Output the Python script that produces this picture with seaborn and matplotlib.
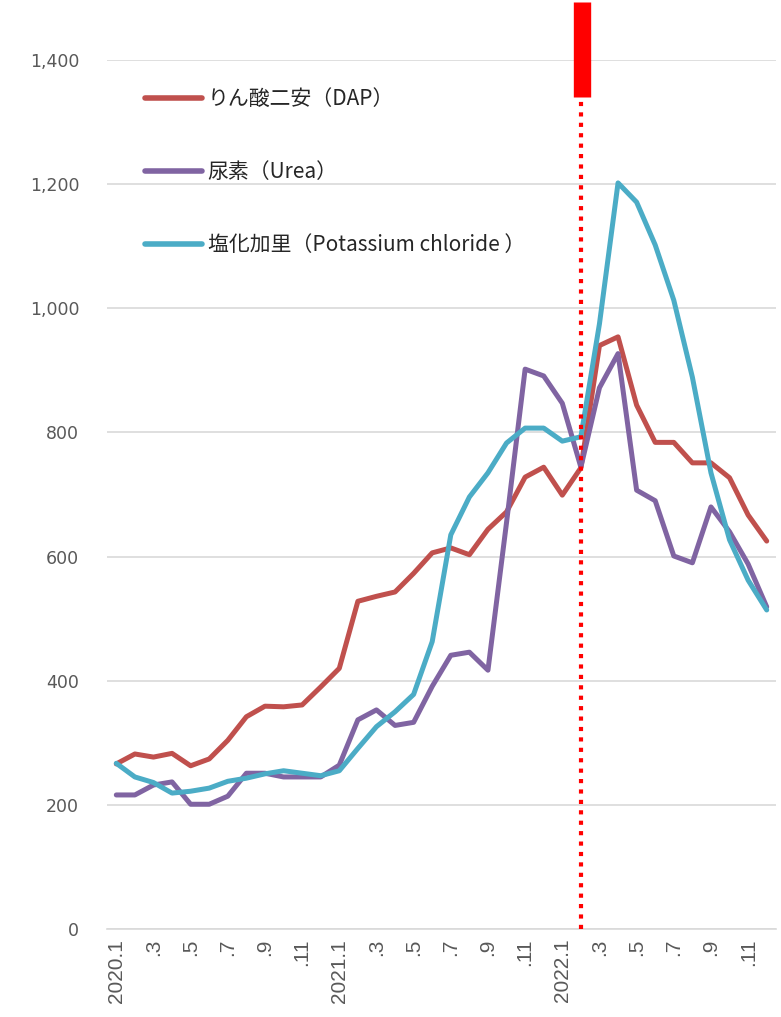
import matplotlib
matplotlib.use("Agg")
import matplotlib.pyplot as plt
import seaborn as sns
import pandas as pd
import numpy as np

# Monthly prices, Jan 2020 - Dec 2022
months = [f"{y}.{m}" for y in (2020, 2021, 2022) for m in range(1, 13)]
dap = [266, 282, 277, 283, 263, 274, 304, 342, 359, 358, 361, 390,
       420, 528, 536, 543, 573, 606, 614, 603, 644, 672, 728, 744,
       699, 743, 940, 954, 844, 784, 784, 751, 751, 727, 667, 625]
urea = [216, 216, 232, 237, 201, 201, 214, 251, 251, 245, 245, 245,
        264, 337, 353, 328, 333, 391, 441, 446, 417, 655, 902, 891,
        847, 744, 872, 927, 707, 690, 601, 590, 680, 640, 588, 519]
potash = [267, 245, 236, 219, 222, 227, 238, 243, 250, 255, 251, 247,
          255, 291, 326, 350, 378, 463, 635, 696, 735, 783, 807, 807,
          786, 793, 975, 1202, 1171, 1102, 1013, 889, 735, 627, 562, 514]

series_names = ["りん酸二安（DAP）", "尿素（Urea）", "塩化加里（Potassium chloride ）"]
series_colors = ["#C0504D", "#8064A2", "#4BACC6"]

tick_labels = ["2020.1", ".3", ".5", ".7", ".9", ".11",
               "2021.1", ".3", ".5", ".7", ".9", ".11",
               "2022.1", ".3", ".5", ".7", ".9", ".11"]
event_month = "2022.2"
y_ticks = [0, 200, 400, 600, 800, 1000, 1200, 1400]

df = pd.DataFrame({
    "idx": np.tile(np.arange(len(months)), 3),
    "price": dap + urea + potash,
    "series": np.repeat(series_names, len(months)),
})

sns.set_theme(style="white")
plt.rcParams["font.family"] = ["DejaVu Sans"]

fig = plt.figure(figsize=(7.81, 10.17), dpi=100)
ax = fig.add_axes([0.137, 0.0865, 0.8566, 0.8545])

sns.lineplot(data=df, x="idx", y="price", hue="series", hue_order=series_names,
             palette=dict(zip(series_names, series_colors)), linewidth=3.6,
             ax=ax, legend=True, zorder=3)
for ln in ax.get_lines():
    ln.set_solid_joinstyle("round")
    ln.set_solid_capstyle("round")

ax.set_xlim(-0.5, len(months) - 0.5)
ax.set_ylim(0, 1400)

# Grid
ax.set_yticks(y_ticks)
ax.yaxis.grid(True, color="#D9D9D9", linewidth=1.2, zorder=0)
ax.xaxis.grid(False)
for side in ("left", "right", "top"):
    ax.spines[side].set_visible(False)
ax.spines["bottom"].set_color("#D9D9D9")
ax.spines["bottom"].set_linewidth(1.2)

ax.set_yticklabels([f"{v:,}" for v in y_ticks])
ax.tick_params(axis="y", length=0, pad=20)
for t in ax.get_yticklabels():
    t.set_fontfamily("DejaVu Sans")
    t.set_fontsize(12.5)
    t.set_color("#595959")

ax.set_xticks(np.arange(0, len(months), 2))
ax.set_xticklabels(tick_labels, rotation=90, va="top")
ax.tick_params(axis="x", length=0, pad=7)
for t in ax.get_xticklabels():
    t.set_fontfamily("Liberation Sans")
    t.set_fontsize(15)
    t.set_color("#595959")
ax.set_xlabel("")
ax.set_ylabel("")

# Event marker: dotted line with a solid bar above it
ev = months.index(event_month)
ax.vlines(ev, 0, 1340, colors="#FF0000", linewidth=3,
          linestyles=(0, (1, 1.5)), zorder=4)
ax.vlines(ev + 0.05, 1340, 1493, colors="#FF0000", linewidth=12.5,
          zorder=4, clip_on=False).set_capstyle("butt")

handles, labels = ax.get_legend_handles_labels()
leg = ax.legend(handles, labels, loc="upper left", bbox_to_anchor=(0.057, 0.968),
                frameon=False, handlelength=2.75, handletextpad=0.25,
                labelspacing=2.45, borderpad=0, borderaxespad=0,
                prop={"family": ["Noto Sans CJK JP", "DejaVu Sans"], "size": 15})
for h in leg.get_lines():
    h.set_linewidth(4)
    h.set_solid_capstyle("round")

fig.savefig("out.png", dpi=100)
